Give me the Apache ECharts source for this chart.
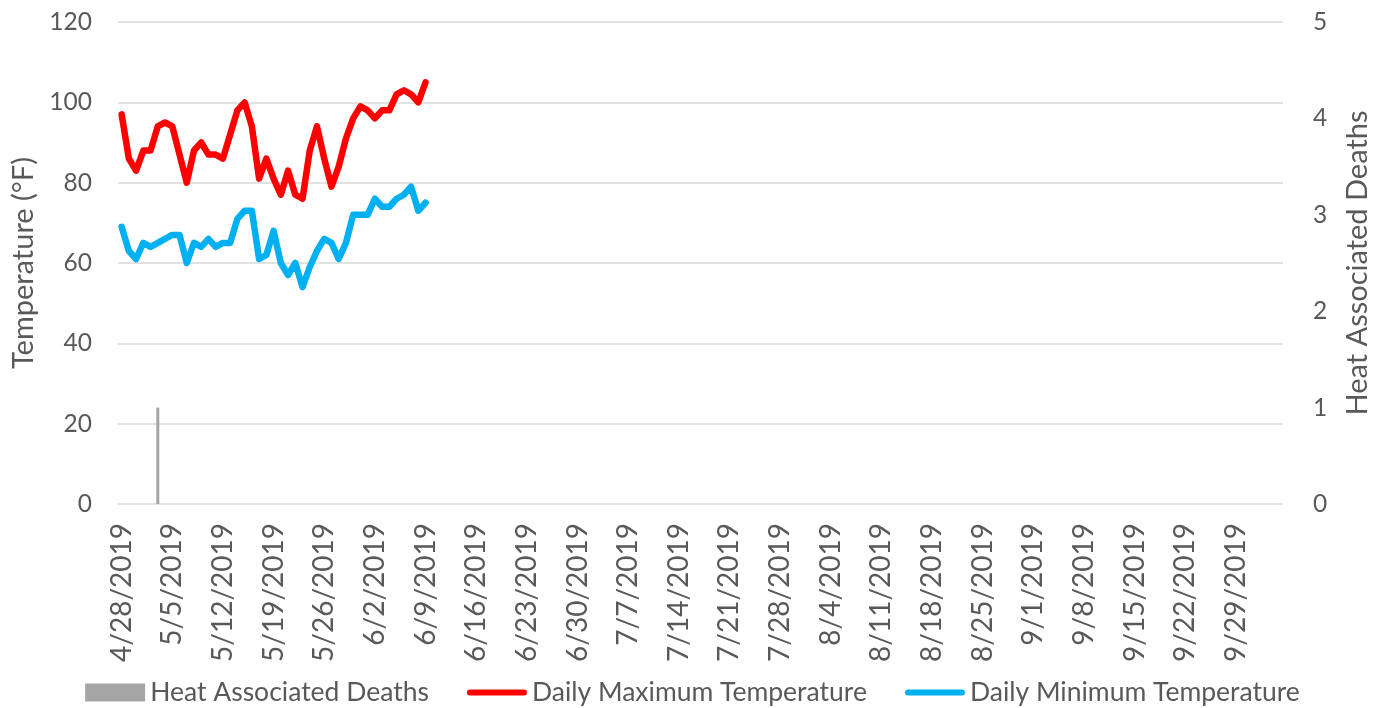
<!DOCTYPE html>
<html>
<head>
<meta charset="utf-8">
<script src="https://cdn.jsdelivr.net/npm/echarts@6/dist/echarts.min.js"></script>
<style>
html,body{margin:0;padding:0;background:#fff;}
#chart{width:1385px;height:708px;}
</style>
</head>
<body>
<div id="chart"></div>
<script>
// Category range (daily dates)
var startDate = '2019-04-28';
var dayCount = 161;

// Heat associated deaths (sparse)
var deathDates = ['5/3/2019'];
var deathCounts = [1];

// Daily temperatures from 4/28/2019 onward (°F)
var maxTemp = [97, 86, 83, 88, 88, 94, 95, 94, 87, 80, 88, 90, 87, 87, 86, 92, 98, 100, 94, 81,
  86, 81, 77, 83, 77, 76, 88, 94, 86, 79, 84, 91, 96, 99, 98, 96, 98, 98, 102, 103,
  102, 100, 105];
var minTemp = [69, 63, 61, 65, 64, 65, 66, 67, 67, 60, 65, 64, 66, 64, 65, 65, 71, 73, 73, 61,
  62, 68, 60, 57, 60, 54, 59, 63, 66, 65, 61, 65, 72, 72, 72, 76, 74, 74, 76, 77,
  79, 73, 75];

var leftTicks = {min: 0, max: 120, interval: 20};
var rightTicks = {min: 0, max: 5, interval: 1};

// build categories
var categories = [];
var d0 = new Date(startDate + 'T12:00:00');
for (var i = 0; i < dayCount; i++) {
  var d = new Date(d0.getTime() + i * 86400000);
  categories.push((d.getMonth() + 1) + '/' + d.getDate() + '/' + d.getFullYear());
}
var deathData = categories.map(function (c) {
  var k = deathDates.indexOf(c);
  return k >= 0 ? deathCounts[k] : 0;
});

var FONT = 'Lato';
var TXT = '#595959';
var LINE_ICON = 'path://M3,0 L57,0 A3,3 0 0 1 57,6 L3,6 A3,3 0 0 1 3,0 Z';
var chart = echarts.init(document.getElementById('chart'));
chart.setOption({
  animation: false,
  textStyle: {fontFamily: FONT},
  grid: {left: 118, right: 102, top: 22, bottom: 204, containLabel: false},
  legend: {
    top: 674,
    left: 'center',
    itemWidth: 60,
    itemHeight: 18,
    itemGap: 38,
    symbolKeepAspect: true,
    textStyle: {fontFamily: FONT, fontSize: 26.5, color: TXT},
    data: [
      {name: 'Heat Associated Deaths', icon: 'rect'},
      {name: 'Daily Maximum Temperature', icon: LINE_ICON, itemStyle: {color: '#FF0000'}},
      {name: 'Daily Minimum Temperature', icon: LINE_ICON, itemStyle: {color: '#00B0F0'}}
    ]
  },
  xAxis: {
    type: 'category',
    data: categories,
    boundaryGap: true,
    axisLine: {show: false},
    axisTick: {show: false},
    axisLabel: {
      interval: 6,
      rotate: 90,
      fontFamily: FONT,
      fontSize: 28,
      color: TXT,
      margin: 19
    },
    splitLine: {show: false}
  },
  yAxis: [
    {
      type: 'value',
      min: leftTicks.min, max: leftTicks.max, interval: leftTicks.interval,
      name: 'Temperature (°F)',
      nameLocation: 'middle',
      nameGap: 80,
      nameTextStyle: {fontFamily: FONT, fontSize: 29, color: TXT},
      axisLine: {show: false},
      axisTick: {show: false},
      axisLabel: {fontFamily: FONT, fontSize: 24.5, color: TXT, margin: 26},
      splitLine: {lineStyle: {color: '#D9D9D9', width: 1.5}}
    },
    {
      type: 'value',
      min: rightTicks.min, max: rightTicks.max, interval: rightTicks.interval,
      name: 'Heat Associated Deaths',
      nameLocation: 'middle',
      nameGap: 60,
      nameRotate: 90,
      nameTextStyle: {fontFamily: FONT, fontSize: 29, color: TXT},
      axisLine: {show: false},
      axisTick: {show: false},
      axisLabel: {fontFamily: FONT, fontSize: 24.5, color: TXT, margin: 30},
      splitLine: {show: false}
    }
  ],
  series: [
    {
      name: 'Heat Associated Deaths',
      type: 'bar',
      yAxisIndex: 1,
      data: deathData,
      barWidth: 3,
      itemStyle: {color: '#A5A5A5'}
    },
    {
      name: 'Daily Maximum Temperature',
      type: 'line',
      yAxisIndex: 0,
      data: maxTemp,
      showSymbol: false,
      symbol: 'none',
      symbolKeepAspect: true,
      lineStyle: {color: '#FF0000', width: 6.5, cap: 'round', join: 'round'},
      itemStyle: {color: '#FF0000'}
    },
    {
      name: 'Daily Minimum Temperature',
      type: 'line',
      yAxisIndex: 0,
      data: minTemp,
      showSymbol: false,
      symbol: 'none',
      symbolKeepAspect: true,
      lineStyle: {color: '#00B0F0', width: 6.5, cap: 'round', join: 'round'},
      itemStyle: {color: '#00B0F0'}
    }
  ]
});
</script>
</body>
</html>
